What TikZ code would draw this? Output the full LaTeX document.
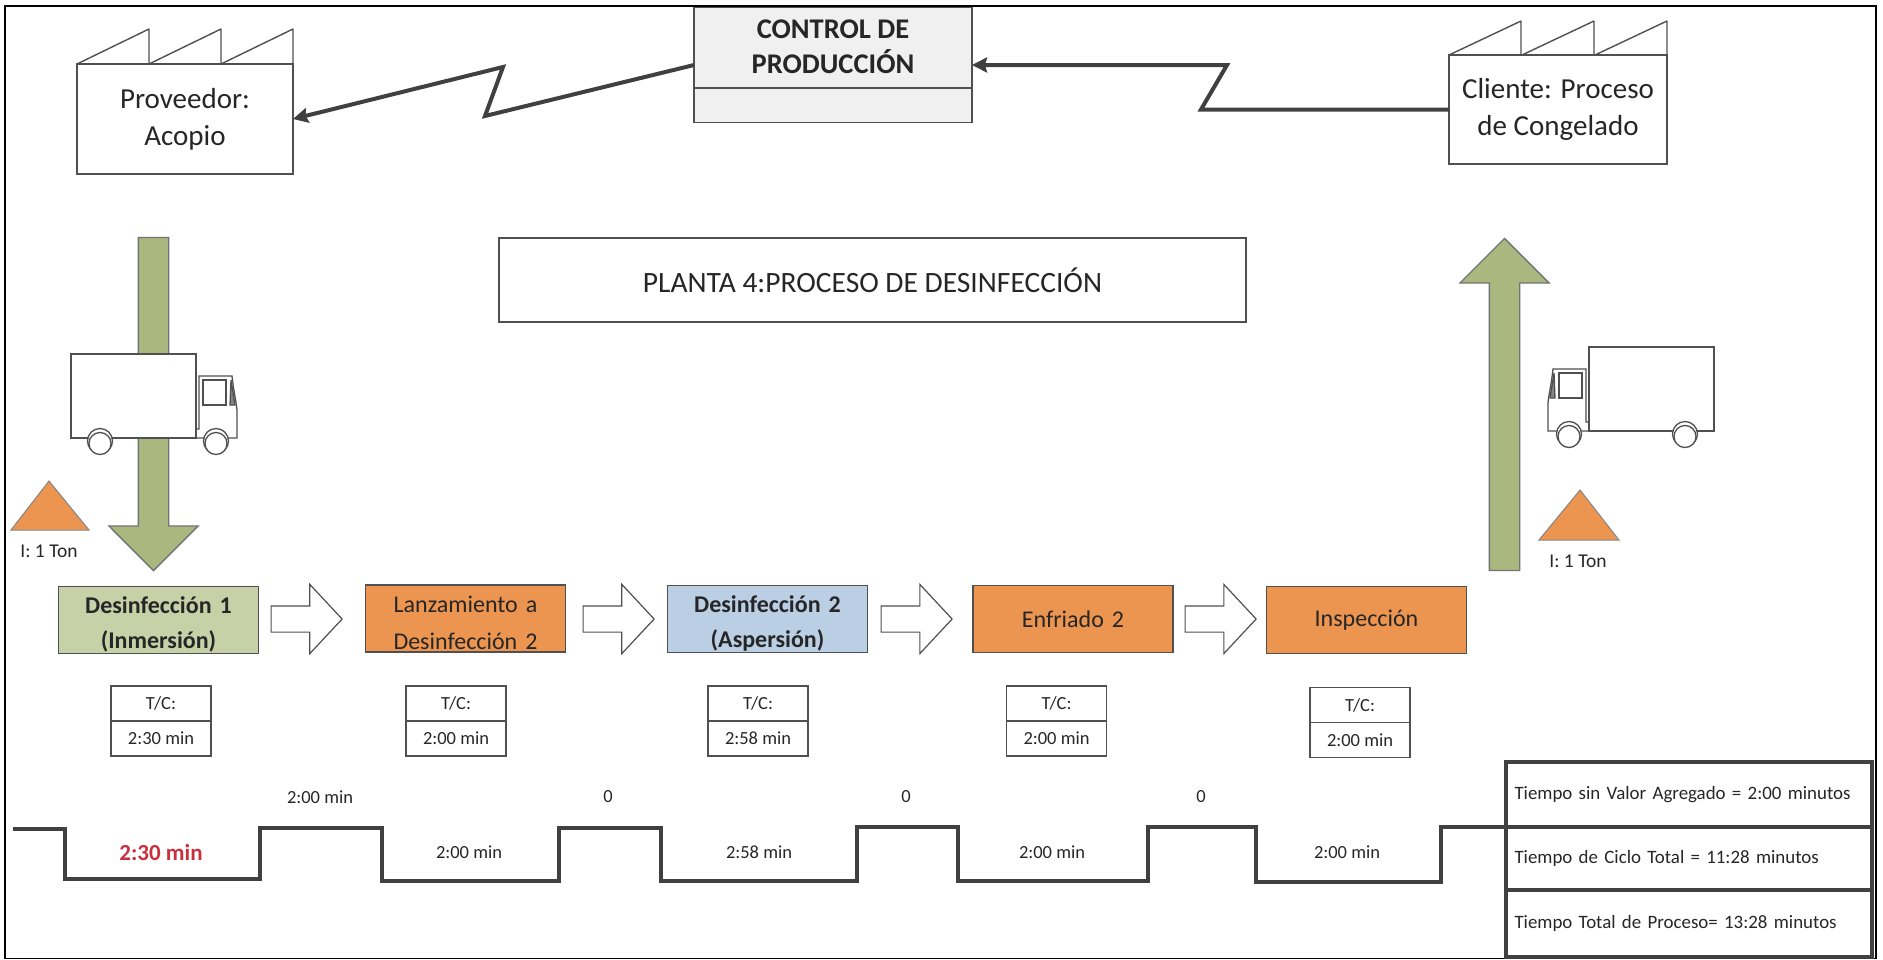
\documentclass[tikz,border=0pt]{standalone}
\usepackage{fontspec}
\setmainfont{Carlito}
\usetikzlibrary{positioning,arrows.meta,shapes.arrows,shapes.geometric}
\definecolor{linegray}{HTML}{505050}
\definecolor{flowgray}{HTML}{404040}
\definecolor{vsmgreen}{HTML}{AAB880}
\definecolor{boxgreen}{HTML}{C6D1A8}
\definecolor{boxorange}{HTML}{EC9550}
\definecolor{boxblue}{HTML}{BBCFE4}
\definecolor{boxgray}{HTML}{F0F0F0}
\definecolor{leadred}{HTML}{C9303F}
\tikzset{
  truck/.pic={
    \draw[truckline,fill=white] (0,0) rectangle (125,84);
    \draw[truckline] (125,84) -- (166,84) -- (166,56) .. controls (165,46) and (163,40) .. (161,22) -- (128,22) -- (128,75) -- (125,75);
    \draw[truckline] (132,26) rectangle (155,51);
    \draw[truckline,fill=linegray!70] (160,26) -- (164,51) -- (159,51) -- cycle;
    \foreach \x in {29,145}{
      \draw[truckline,fill=white] (\x,87) circle (12.5);
      \draw[truckline,fill=white] (\x,89.5) circle (11);
    }
  }
}
\begin{document}
\begin{tikzpicture}[x=1pt,y=-1pt,line width=1.5pt,
  every node/.style={text=black!85},
  truckline/.style={draw=linegray,line width=1.3pt},
  factory/.style={draw=linegray,fill=white,rectangle,outer sep=0pt,align=center,font={\fontsize{29}{37}\selectfont}},
  roofline/.style={draw=linegray,line width=1.4pt,line join=bevel},
  flowline/.style={draw=flowgray,line width=4pt,line join=miter,-{Stealth[length=15pt,width=15pt,inset=2pt]}},
  bigarrow/.style={draw=linegray!80,fill=vsmgreen,single arrow,line width=1.3pt,inner sep=14.5pt,outer sep=0pt,single arrow tip angle=90,minimum width=88pt,single arrow head extend=29.5pt},
  pusharrow/.style={draw=linegray,fill=white,single arrow,line width=1.2pt,inner xsep=0pt,inner ysep=12.5pt,outer sep=0pt,single arrow tip angle=94,minimum width=68pt,minimum height=71pt,single arrow head extend=21.5pt},
  stock/.style={font={\fontsize{19.5}{22}\selectfont}},
  stepbox/.style={draw=linegray,rectangle,outer sep=0pt,inner ysep=0pt,text width=190pt,align=center,minimum width=200pt,minimum height=67pt,font={\fontsize{24}{37}\selectfont}},
  twoline/.style={execute at begin node={\rule{0pt}{26pt}}},
  tcbox/.style={draw=linegray,rectangle,outer sep=0pt,inner sep=0pt,minimum width=100pt,minimum height=35pt,font={\fontsize{18.5}{20}\selectfont},line width=1.3pt},
  timelabel/.style={font={\fontsize{18.5}{20}\selectfont}},
  timeline/.style={draw=flowgray,line width=4pt,line join=miter},
  totalbox/.style={draw=flowgray,rectangle,line width=3.5pt,outer sep=0pt,inner sep=0pt,minimum width=366pt,text width=349pt,align=left,font={\fontsize{18.9}{20}\selectfont}}]

\useasboundingbox (0,0) rectangle (1883,959);
\draw[black,line width=1.6pt] (5,6) rectangle (1876,958.5);

\node[factory,minimum width=216pt,minimum height=110pt] (proveedor) at (185,119) {Proveedor:\\Acopio};
\foreach \x in {77,149,221} \draw[roofline] (\x,64) -- ++(72,-35) -- ++(0,35);
\node[factory,minimum width=218pt,minimum height=109pt] (cliente) at (1558,109.5) {Cliente: Proceso\\de Congelado};
\foreach \x in {1449,1522,1595} \draw[roofline] (\x,55) -- ++(72,-34) -- ++(0,34);

\node[draw=linegray,fill=boxgray,rectangle,outer sep=0pt,minimum width=278pt,minimum height=115pt] (control) at (833,65) {};
\draw[linegray] (694,88) -- (972,88);
\node[align=center,font={\bfseries\fontsize{28.5}{35}\selectfont}] (controltext) at (833,47) {CONTROL DE\\PRODUCCIÓN};

\draw[flowline] (control.west) -- (485,116) -- (503,67) -- (proveedor.east);
\draw[flowline] (cliente.west) -- (1201,109.5) -- (1227,65) -- (control.east);

\node[draw=linegray,rectangle,minimum width=747pt,minimum height=84pt,font={\fontsize{29.5}{32}\selectfont}] (planta) at (872.5,280) {PLANTA 4:PROCESO DE DESINFECCIÓN};

\node[bigarrow,shape border rotate=270,minimum height=333pt] (entrada) at (153.5,396.5) {};
\node[bigarrow,shape border rotate=90,minimum height=332pt] (salida) at (1504.5,412) {};
\pic at (71,354) {truck};
\pic[xscale=-1] at (1714,347) {truck};

\draw[fill=boxorange,draw=linegray!70,line width=1pt] (49,481) -- (89,530) -- (11,530) -- cycle;
\node[stock] (stockin) at (49,551) {I: 1 Ton};
\draw[fill=boxorange,draw=linegray!70,line width=1pt] (1580,490) -- (1619,540) -- (1539,540) -- cycle;
\node[stock] (stockout) at (1578,561) {I: 1 Ton};

\node[stepbox,twoline,fill=boxgreen,font={\bfseries\fontsize{24}{35}\selectfont}] (paso1) at (158.5,620) {Desinfección 1\\(Inmersión)};
\node[stepbox,twoline,fill=boxorange] (paso2) at (465.5,618.5) {Lanzamiento a\\Desinfección 2};
\node[stepbox,twoline,fill=boxblue,font={\bfseries\fontsize{24}{35}\selectfont}] (paso3) at (767.5,619) {Desinfección 2\\(Aspersión)};
\node[stepbox,fill=boxorange] (paso4) at (1073,619) {Enfriado 2};
\node[stepbox,fill=boxorange] (paso5) at (1366.5,620) {Inspección};

\node[pusharrow] (push1) at (300.5,619) {};
\node[pusharrow] (push2) at (612.5,619) {};
\node[pusharrow] (push3) at (910.5,619) {};
\node[pusharrow] (push4) at (1214.5,619) {};

\foreach \n/\x/\y/\t in {1/161/703.5/2:30 min,2/456/703.5/2:00 min,3/758/703.5/2:58 min,4/1056.5/703.5/2:00 min,5/1360/705/2:00 min}{
  \node[tcbox] (tc\n) at (\x,\y) {T/C:};
  \node[tcbox,below=0pt of tc\n] (tv\n) {\t};
}

\node[timelabel,text=leadred,font={\bfseries\fontsize{23}{26}\selectfont}] (v1) at (161,852) {2:30 min};
\node[timelabel] (n1) at (320,797) {2:00 min};
\node[timelabel] (v2) at (469,852) {2:00 min};
\node[timelabel] (n2) at (608,797) {0};
\node[timelabel] (v3) at (759,852) {2:58 min};
\node[timelabel] (n3) at (906,797) {0};
\node[timelabel] (v4) at (1052,852) {2:00 min};
\node[timelabel] (n4) at (1201,797) {0};
\node[timelabel] (v5) at (1347,852) {2:00 min};

\node[totalbox,minimum height=65pt] (valor) at (1689,794.5) {Tiempo sin Valor Agregado = 2:00 minutos};
\node[totalbox,minimum height=63pt,below=0pt of valor] (ciclo) {Tiempo de Ciclo Total = 11:28 minutos};
\node[totalbox,minimum height=67pt,below=0pt of ciclo] (proceso) {Tiempo Total de Proceso= 13:28 minutos};

\coordinate (inicio) at (13,829);
\draw[timeline] (inicio) -- (65,829) -- (65,879) -- (260,879) -- (260,828) -- (382,828) -- (382,881) -- (559,881) -- (559,828) -- (661,828) -- (661,881) -- (857,881) -- (857,827) -- (958,827) -- (958,881) -- (1148,881) -- (1148,827) -- (1256,827) -- (1256,882) -- (1441,882) -- (1441,827) -- (valor.south west);

\end{tikzpicture}
\end{document}
